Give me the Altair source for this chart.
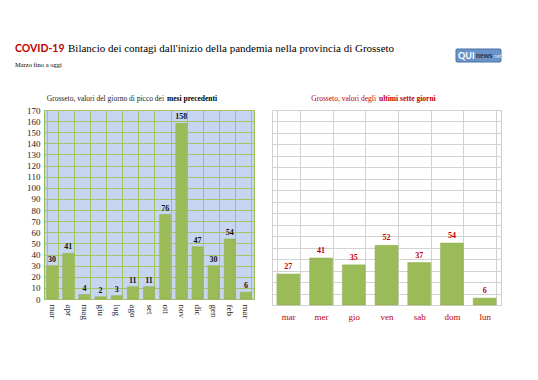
import json
import altair as alt
import pandas as pd

# ---- data ----
months = ["mar", "apr", "mag", "giu", "lug", "ago", "set", "ott", "nov", "dic", "gen", "feb", "mar"]
month_vals = [30, 41, 4, 2, 3, 11, 11, 76, 158, 47, 30, 54, 6]
days = ["mar", "mer", "gio", "ven", "sab", "dom", "lun"]
day_vals = [27, 41, 35, 52, 37, 54, 6]
y_ticks = list(range(0, 171, 10))

SERIF = "Liberation Serif"
RED = "#c00000"
GREEN = "#9bbb59"

df_m = pd.DataFrame({"idx": list(range(len(months))), "v": month_vals})
df_d = pd.DataFrame({"giorno": days, "v": day_vals})

# ---- header (titles, subtitle, logo) ----
hdr_df = pd.DataFrame({"a": [0]})
hbase = alt.Chart(hdr_df)
H_W, H_H = 457, 95


def txt(text, x, y, size, color="#000", weight="normal", font=SERIF, align="left"):
    return hbase.mark_text(text=text, font=font, fontSize=size, color=color,
                           fontWeight=weight, align=align, baseline="middle").encode(
        x=alt.value(x), y=alt.value(y))


logo_rect = hbase.mark_rect(color="#6a93c8", stroke="#4a72a8", cornerRadius=1).encode(
    x=alt.value(412), x2=alt.value(457), y=alt.value(41), y2=alt.value(54))

header = alt.layer(
    txt("COVID-19", -29, 41, 10.5, RED, "bold", "Lato"),
    txt("Bilancio dei contagi dall'inizio della pandemia nella provincia di Grosseto", 24, 41, 11),
    txt("Marzo fino a oggi", -29, 57, 6.5),
    logo_rect,
    txt("QUI", 414, 47.5, 9, "#ffffff", "bold", "Lato"),
    txt("news", 432, 48, 7, "#1f2f4f", "bold", "Lato"),
    txt(".net", 449, 48, 5, "#dfe8f5", "normal", "Lato"),
    txt("Grosseto, valori del giorno di picco dei", 120, 91, 7.5, "#222", align="right"),
    txt("mesi precedenti", 123, 91, 7.5, "#000", "bold"),
    txt("Grosseto, valori degli", 332, 91, 7.5, RED, align="right"),
    txt("ultimi sette giorni", 335, 91, 7.5, RED, "bold"),
).properties(width=H_W, height=H_H, view=alt.ViewBackground(stroke=None))

# ---- left panel ----
label_expr = json.dumps(months) + "[datum.value]"
lbase = alt.Chart(df_m).encode(
    x=alt.X("idx:O", title=None,
            scale=alt.Scale(paddingInner=0.32, paddingOuter=0.16),
            axis=alt.Axis(labelExpr=label_expr, labelAngle=90, labelAlign="left",
                          labelBaseline="middle", labelFont=SERIF, labelFontSize=9,
                          labelColor="#222", labelPadding=5, ticks=False, domain=False,
                          grid=True, gridColor="#a6c467", tickBand="extent")),
    y=alt.Y("v:Q", title=None,
            scale=alt.Scale(domain=[0, 170], nice=False),
            axis=alt.Axis(values=y_ticks, labelFont=SERIF, labelFontSize=9,
                          labelColor="#222", ticks=False, domain=False, labelPadding=4,
                          grid=True, gridColor="#a6c467", minExtent=35, maxExtent=35)),
)
left = alt.layer(
    lbase.mark_bar(color=GREEN, stroke="#8eae4f", strokeWidth=0.5),
    lbase.mark_text(dy=-6, font=SERIF, fontSize=8, fontWeight="bold", color="#111").encode(text="v:Q"),
).properties(width=210, height=189,
             view=alt.ViewBackground(fill="#c6d5f0", stroke="#9bbb59"))

# ---- right panel ----
rbase = alt.Chart(df_d).encode(
    x=alt.X("giorno:N", title=None, sort=days,
            scale=alt.Scale(paddingInner=0.3, paddingOuter=0.15),
            axis=alt.Axis(labelAngle=0, labelFont=SERIF, labelFontSize=9, labelColor=RED,
                          labelPadding=7, ticks=False, domain=False, grid=True,
                          gridColor="#d2d2d2", tickBand="extent")),
    y=alt.Y("v:Q", title=None,
            scale=alt.Scale(domain=[0, 170], nice=False),
            axis=alt.Axis(values=y_ticks, labels=False, ticks=False, domain=False,
                          grid=True, gridColor="#d2d2d2", minExtent=0, maxExtent=0)),
)
right = alt.layer(
    rbase.mark_bar(color=GREEN, stroke="#8eae4f", strokeWidth=0.5),
    rbase.mark_text(dy=-7, font=SERIF, fontSize=8, fontWeight="bold", color=RED).encode(text="v:Q"),
).properties(width=229, height=195,
             view=alt.ViewBackground(fill="#ffffff", stroke="#cfcfcf"))

panels = alt.hconcat(left, right, spacing=16)

chart = alt.vconcat(header, panels, spacing=2).properties(
    padding={"left": 0, "top": 0, "right": 0, "bottom": 0},
    background="#ffffff",
).configure_view(strokeWidth=1)

chart.save("out.html", embed_options={"renderer": "svg", "actions": False})
